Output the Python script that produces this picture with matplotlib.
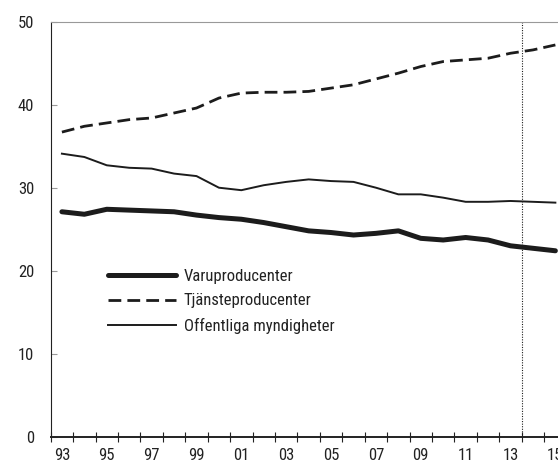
import matplotlib
matplotlib.use('Agg')
import matplotlib.pyplot as plt

plt.rcParams['font.family'] = ['Roboto Condensed', 'DejaVu Sans']

years = list(range(1993, 2016))
tick_labels = ['93', '95', '97', '99', '01', '03', '05', '07', '09', '11', '13', '15']

# andel av sysselsättningen, procent
varu = [27.1, 26.8, 27.4, 27.3, 27.2, 27.1, 26.7, 26.4, 26.2, 25.8, 25.3, 24.8,
        24.6, 24.3, 24.5, 24.8, 23.9, 23.7, 24.0, 23.7, 23.0, 22.7, 22.4]
tjanst = [36.7, 37.4, 37.8, 38.2, 38.4, 39.0, 39.6, 40.8, 41.4, 41.5, 41.5, 41.6,
          42.0, 42.4, 43.1, 43.8, 44.6, 45.2, 45.4, 45.6, 46.2, 46.6, 47.2]
offentl = [34.1, 33.7, 32.7, 32.4, 32.3, 31.7, 31.4, 30.0, 29.7, 30.3, 30.7, 31.0,
           30.8, 30.7, 30.0, 29.2, 29.2, 28.8, 28.3, 28.3, 28.4, 28.3, 28.2]

x = list(range(len(years)))

fig = plt.figure(figsize=(5.58, 4.66), dpi=100)
ax = fig.add_axes([50.7/558, 1 - 436.7/466, 1 - 50.7/558, 415/466])

ln = '#1c1c1c'
ax.plot(x, varu, color=ln, lw=3.6, solid_capstyle='round', solid_joinstyle='round', label='Varuproducenter')
ax.plot(x, tjanst, color=ln, lw=2.0, dashes=(4.6, 2.2), label='Tjänsteproducenter')
ax.plot(x, offentl, color=ln, lw=1.4, label='Offentliga myndigheter')

# prognosgräns
ax.axvline(20.5, color=ln, lw=0.8, dashes=(1, 1.3))

ax.set_xticks([i - 0.5 for i in range(len(years) + 1)])
ax.set_xticklabels([])
ax.set_xticks(x[::2], minor=True)
ax.set_xticklabels(tick_labels, minor=True)
ax.tick_params(axis='x', which='major', direction='inout', length=7.2, width=0.8, color='#222')
ax.tick_params(axis='x', which='minor', length=0, pad=8.3, labelsize=12, labelcolor='#222')

ax.set_yticks([0, 10, 20, 30, 40, 50])
ax.tick_params(axis='y', direction='in', length=4.3, width=0.8, color='#999', pad=12, labelsize=12, labelcolor='#222')

# figuren klipps vid 2015 som i originalet
ax.set_xlim(-0.5, -0.5 + (558 - 50.7) / 22.43)
ax.set_ylim(0, 50)

ax.spines['right'].set_visible(False)
ax.spines['top'].set_color('#999')
ax.spines['top'].set_linewidth(0.8)
ax.spines['left'].set_linewidth(0.8)
ax.spines['left'].set_color('#222')
ax.spines['bottom'].set_linewidth(1.4)
ax.spines['bottom'].set_color('#222')

leg = ax.legend(loc='upper left', bbox_to_anchor=(0.113, 0.404), frameon=False, fontsize=12,
                handlelength=4.1, handletextpad=0.45, labelspacing=0.56, borderpad=0, borderaxespad=0)
for t in leg.get_texts():
    t.set_color('#222')

fig.savefig('out.png', dpi=100)
